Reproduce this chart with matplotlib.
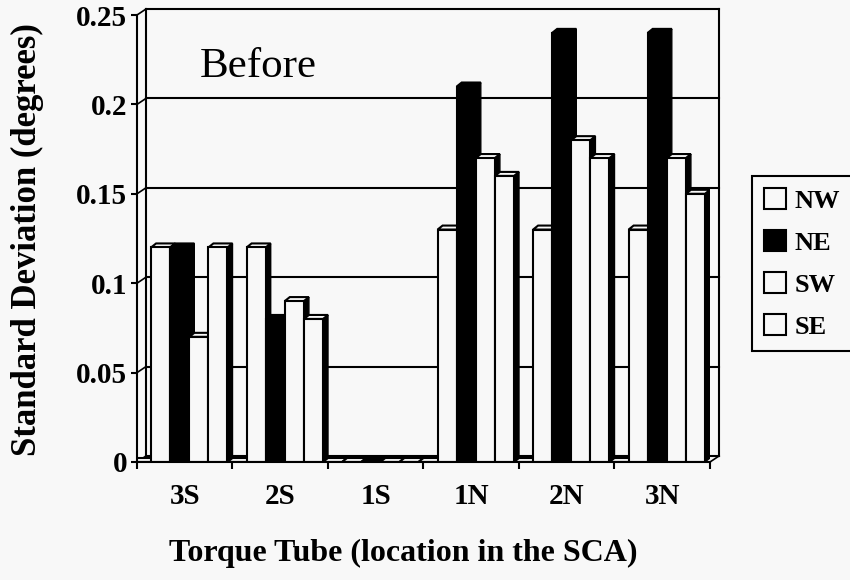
import numpy as np
import matplotlib.pyplot as plt
from matplotlib.patches import Polygon, Patch

plt.rcParams['font.family'] = ['Liberation Serif', 'DejaVu Serif']
plt.rcParams['font.weight'] = 'bold'

# standard deviation per torque tube, one list per sensor
categories = ['3S', '2S', '1S', '1N', '2N', '3N']
blank = [0, 0, 0, 0, 0, 0]
nw = [0.12, 0.12, 0, 0.13, 0.13, 0.13]
ne = [0.12, 0.08, 0, 0.21, 0.24, 0.24]
sw = [0.07, 0.09, 0, 0.17, 0.18, 0.17]
se = [0.12, 0.08, 0, 0.16, 0.17, 0.15]
legend_names = ['NW', 'NE', 'SW', 'SE']
yticks = [0, 0.05, 0.1, 0.15, 0.2, 0.25]
ytick_labels = ['0', '0.05', '0.1', '0.15', '0.2', '0.25']

bg = '#f8f8f8'
series = [blank, nw, ne, sw, se]
colors = [bg, bg, 'black', bg, bg]

W, H = 850, 580
left, right, top, bottom = 137, 710, 15, 462
fig = plt.figure(figsize=(W / 100, H / 100), dpi=100, facecolor=bg)
ax = fig.add_axes([left / W, 1 - bottom / H, (right - left) / W, (bottom - top) / H])
ax.set_xlim(0, 6)
ax.set_ylim(0, 0.25)
ax.patch.set_visible(False)

# pixel -> data scale factors, used for the fake 3d depth
sx = 6 / (right - left)
sy = 0.25 / (bottom - top)
wx, wy = 9 * sx, 6 * sy      # back wall offset
bx, by = 5 * sx, 4 * sy      # bar depth

# back wall: gridlines, edges and the little connectors to the axis
for y in yticks:
    ax.plot([wx, 6 + wx], [y + wy, y + wy], color='k', lw=1.5, zorder=1, clip_on=False)
    ax.plot([0, wx], [y, y + wy], color='k', lw=1.2, zorder=1, clip_on=False)
ax.plot([wx, wx], [wy, 0.25 + wy], color='k', lw=1.5, zorder=1, clip_on=False)
ax.plot([6 + wx, 6 + wx], [wy, 0.25 + wy], color='k', lw=1.5, zorder=1, clip_on=False)
ax.plot([6, 6 + wx], [0, wy], color='k', lw=1.2, zorder=1, clip_on=False)

# columns, drawn left to right so each front hides the previous side
slot = 0.2
shift = 5 * sx
k = 0
for i in range(len(categories)):
    for j, vals in enumerate(series):
        h = vals[i]
        x0 = i + j * slot - shift
        x1 = x0 + slot
        z = 3 + k * 0.01
        ax.add_patch(Polygon([(x1, 0), (x1, h), (x1 + bx, h + by), (x1 + bx, by)],
                             closed=True, fc='k', ec='k', lw=1, zorder=z))
        ax.add_patch(Polygon([(x0, h), (x1, h), (x1 + bx, h + by), (x0 + bx, h + by)],
                             closed=True, fc=colors[j], ec='k', lw=1.5, zorder=z))
        bars = ax.bar(x0, h, width=slot, align='edge', color=colors[j],
                      edgecolor='k', linewidth=1.5)
        bars[0].set_zorder(z + 0.005)
        k += 1

for s in ['top', 'right']:
    ax.spines[s].set_visible(False)
for s in ['left', 'bottom']:
    ax.spines[s].set_linewidth(1.5)
    ax.spines[s].set_zorder(10)

ax.set_yticks(yticks, labels=ytick_labels)
ax.tick_params(axis='y', length=4, width=1.5, pad=3, labelsize=21)
ax.set_xticks(np.arange(6) + 0.5, labels=categories)
ax.set_xticks(np.arange(7), minor=True)
ax.tick_params(axis='x', which='major', length=0, pad=15, labelsize=21)
ax.tick_params(axis='x', which='minor', length=5, width=1.5)

fig.text(27 / W, 1 - 240 / H, 'Standard Deviation (degrees)', rotation=90,
         ha='center', va='center', fontsize=25)
fig.text(403 / W, 1 - 553 / H, 'Torque Tube (location in the SCA)',
         ha='center', va='center', fontsize=23)
fig.text(200 / W, 1 - 77 / H, 'Before', fontsize=31, fontweight='normal', va='baseline')

handles = [Patch(fc=colors[n + 1], ec='k', lw=1.5, label=name)
           for n, name in enumerate(legend_names)]
leg = fig.legend(handles=handles, loc='upper left', bbox_to_anchor=(752 / W, 1 - 176 / H),
                 frameon=True, fancybox=False, edgecolor='k', facecolor=bg, framealpha=1,
                 fontsize=19, handlelength=0.85, handleheight=0.85, handletextpad=0.3,
                 labelspacing=0.66, borderpad=0.45, borderaxespad=0)
leg.get_frame().set_linewidth(1.5)

fig.savefig('out.png', dpi=100, facecolor=bg)
